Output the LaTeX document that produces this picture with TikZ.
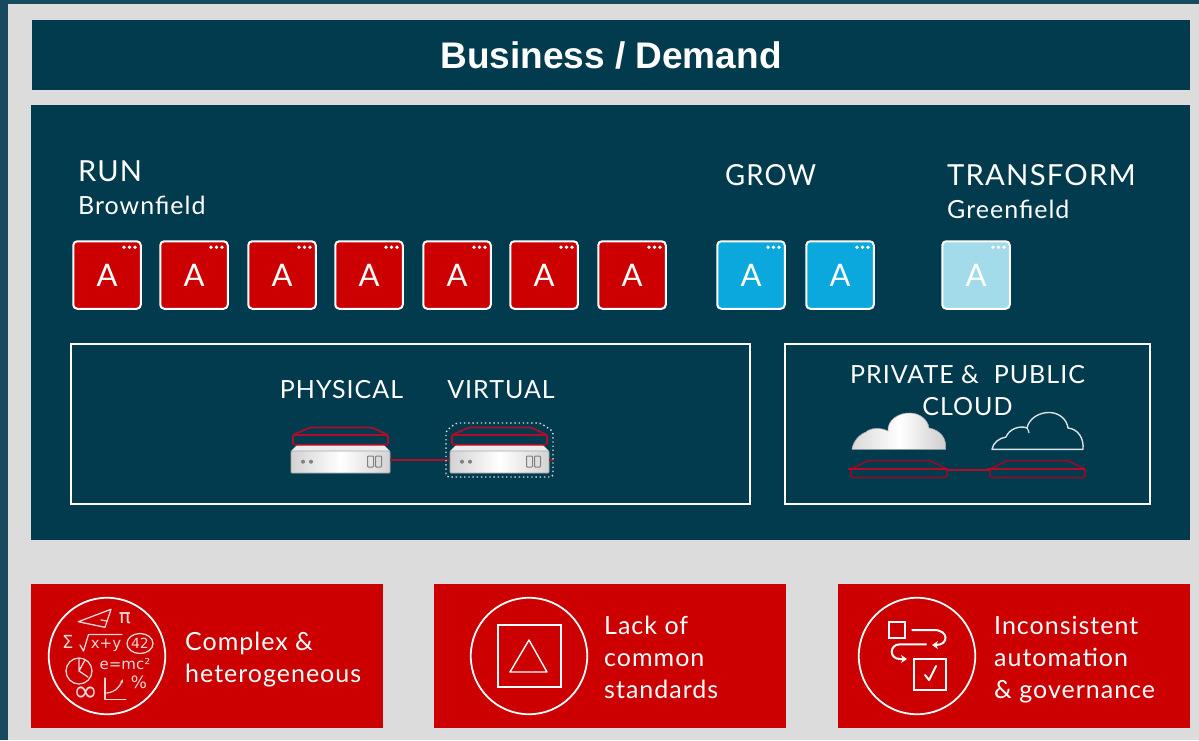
\documentclass[tikz,border=0pt]{standalone}
\usepackage{fontspec}
\setmainfont{Lato}
\newfontfamily\titlefont{Liberation Sans}
\newfontfamily\lblfont[LetterSpace=4]{Lato}
\newfontfamily\mathfont{DejaVu Sans}
\usetikzlibrary{arrows.meta,calc}
\definecolor{outerblue}{HTML}{17495F}
\definecolor{panelgrey}{HTML}{DCDCDC}
\definecolor{navy}{HTML}{023B4D}
\definecolor{rhred}{HTML}{CC0000}
\definecolor{appblue}{HTML}{0AA8DC}
\definecolor{applight}{HTML}{A3DBEA}
\definecolor{lidred}{HTML}{B00D28}
\definecolor{traydark}{HTML}{8A0F28}
\definecolor{chalk}{HTML}{F6D6D6}
\tikzset{
  x=1pt,y=-1pt,
  band/.style={draw=none,fill=navy,inner sep=0,outer sep=0,anchor=north west},
  redband/.style={draw=none,fill=rhred,inner sep=0,outer sep=0,anchor=north west,minimum width=352pt,minimum height=144pt},
  frame/.style={draw=white,line width=1.6pt,inner sep=0,outer sep=0,anchor=north west},
  appbox/.style={rounded corners=4pt,draw=white,line width=2pt,minimum size=67.5pt,inner sep=0,outer sep=0,
    text=white,font=\lblfont\fontsize{31}{31}\selectfont},
  hdr/.style={anchor=base west,inner sep=0,text=white,font=\lblfont\fontsize{29}{29}\selectfont},
  subhdr/.style={anchor=base west,inner sep=0,text=white,font=\lblfont\fontsize{25}{25}\selectfont},
  boxlbl/.style={anchor=base,inner sep=0,text=white,font=\lblfont\fontsize{25}{25}\selectfont},
  boxlbltwo/.style={anchor=center,inner sep=0,text=white,align=center,font=\lblfont\fontsize{25}{32}\selectfont},
  issue/.style={anchor=west,inner sep=0,text=white,align=left,font=\lblfont\fontsize{25}{32}\selectfont},
  ring/.style={circle,draw=white,line width=1.8pt,minimum size=116.5pt,inner sep=0,outer sep=0},
  chalktxt/.style={inner sep=0,text=chalk},
  chalkline/.style={draw=chalk,line width=1.3pt,line cap=round,line join=round},
  wline/.style={draw=white,line width=2pt},
  body/.style={minimum width=99pt,minimum height=22pt,inner sep=0,outer sep=0,rounded corners=1pt,
    draw=gray!70,line width=.8pt,left color=gray!35,right color=gray!35,middle color=white},
  lidline/.style={draw=lidred,line width=1.7pt,line join=round},
  trayline/.style={draw=traydark,line width=1.7pt,line join=round},
  link/.style={draw=lidred,line width=2pt},
}
% app icon: name, x of left edge, fill
\newcommand{\appicon}[3]{%
  \node[appbox,fill=#3] (#1) at (#2+34,275) {A};
  \foreach \d in {0,5.5,11}{\fill[white] (#2+51+\d,247.3) circle (1.9pt);}
}
% server with lid: name, x of left edge of body
\newcommand{\serverunit}[2]{%
  \fill[white!85!gray] (#2+6,445) -- (#2+93,445) -- (#2+99,451) -- (#2,451) -- cycle;
  \node[body,anchor=north west] (#1) at (#2,451) {};
  \fill[gray] (#2+12,461.7) circle (2pt) (#2+20,461.7) circle (2pt);
  \draw[gray,line width=1pt,rounded corners=.8pt] (#2+76.5,456) rectangle (#2+82.5,467) (#2+84.5,456) rectangle (#2+90.5,467);
  \draw[lidline,rounded corners=1.5pt] (#2+2,435) -- (#2+19,427.5) -- (#2+81,427.5) -- (#2+97,435) -- (#2+97,444.7) -- (#2+2,444.7) -- cycle;
  \draw[lidred,line width=2.2pt] (#2+2,435) -- (#2+97,435);
}
% flat tray: name, x left, width
\newcommand{\trayunit}[3]{%
  \node[minimum width=#3pt,minimum height=8.5pt,inner sep=0,outer sep=0,anchor=north west,draw=traydark,line width=1.7pt,rounded corners=1.5pt] (#1) at (#2,469) {};
  \draw[trayline] (#2,469) -- (#2+17,460.7) -- (#2+#3-17,460.7) -- (#2+#3,469);
  \draw[lidred,line width=2.2pt] (#2-3,469) -- (#2+#3,469);
}
\begin{document}
\begin{tikzpicture}
\useasboundingbox (0,0) rectangle (1199,740);
\fill[outerblue] (0,0) rectangle (1199,740);
\fill[panelgrey] (8,4) rectangle (1199,740);

% header band
\node[band,minimum width=1158pt,minimum height=70pt,text=white,font=\titlefont\bfseries\fontsize{37}{37}\selectfont,align=center] (business) at (32,20) {Business / Demand};
\node[band,minimum width=1159pt,minimum height=435pt] (main) at (31,105) {};

% column titles
\node[hdr] (run) at (78,181) {RUN};
\node[subhdr] (brown) at (78,214) {Brownfield};
\node[hdr] (grow) at (725,185) {\scalebox{.95}[1]{GROW}};
\node[hdr] (transform) at (947,185) {\scalebox{1.01}[1]{TRANSFORM}};
\node[subhdr] (green) at (947,218) {Greenfield};

% applications
\appicon{a1}{73}{rhred}
\appicon{a2}{160}{rhred}
\appicon{a3}{248}{rhred}
\appicon{a4}{335}{rhred}
\appicon{a5}{423}{rhred}
\appicon{a6}{510}{rhred}
\appicon{a7}{598}{rhred}
\appicon{b1}{717}{appblue}
\appicon{b2}{806}{appblue}
\appicon{c1}{942}{applight}

% infrastructure frames
\node[frame,minimum width=679pt,minimum height=160pt] (onprem) at (71,344) {};
\node[frame,minimum width=365pt,minimum height=160pt] (cloudbox) at (785,344) {};
\node[boxlbl] (physical) at (341.5,398) {PHYSICAL};
\node[boxlbl] (virtual) at (501,398) {VIRTUAL};
\node[boxlbltwo] (pp) at (967.5,391) {PRIVATE \&\ \ PUBLIC\\ CLOUD};

% servers
\serverunit{srvP}{291}
\serverunit{srvV}{450}
\coordinate (vedge) at (553,459.5);
\draw[link] ($(srvP.east)+(0,-2.5)$) -- ($(srvV.west)+(0,-2.5)$);
\draw[link] ($(srvV.east)+(0,-2.5)$) -- (vedge);
\draw[white!85!navy,line width=1.4pt,dash pattern=on 1.4pt off 2.8pt,rounded corners=3pt]
  (446,477) -- (446,431) -- (456,423) -- (540,423) -- (553,431) -- (553,477) -- cycle;

% clouds
\shade[left color=gray!30,right color=gray!40,middle color=white,draw=gray!70,line width=.6pt]
  (852,449.3) .. controls (853,441) and (860,434) .. (866,432)
  .. controls (870,428) and (880,427) .. (888,431)
  .. controls (887,420) and (899,412.5) .. (910,413)
  .. controls (920,413) and (928,420) .. (929,428)
  .. controls (940,430) and (947,438) .. (945.5,449.3) -- cycle;
\draw[white!85!navy,line width=1.4pt,line join=round]
  (992,449.3) .. controls (993,443) and (999,438) .. (1006,437)
  .. controls (1009,429) and (1020,425) .. (1027,428)
  .. controls (1029,418) and (1040,412) .. (1050,412.5)
  .. controls (1060,413) and (1067,420) .. (1068,428)
  .. controls (1078,429) and (1084,438) .. (1083,449.3) -- cycle;
\draw[white!85!navy,line width=1.2pt] (1027,428) .. controls (1028,430) and (1029,431) .. (1029,433);

% trays
\trayunit{trayA}{851}{96}
\trayunit{trayB}{990}{95}
\draw[link] ($(trayA.north east)+(0,1)$) -- ($(trayB.north west)+(0,1)$);

% red issue boxes
\node[redband] (issA) at (31,584) {};
\node[redband] (issB) at (434,584) {};
\node[redband] (issC) at (838,584) {};
\node[ring] (ringA) at (107,656) {};
\node[ring] (ringB) at (529,656) {};
\node[ring] (ringC) at (917,656) {};
\node[issue] (txtA) at (185,660) {Complex \&\\heterogeneous};
\node[issue] (txtB) at (604,657) {Lack of\\common\\standards};
\node[issue] (txtC) at (994,660) {Inconsistent\\automation\\\&\ governance};

% formula icon
\draw[chalkline] (78.3,621.7) -- (111,609.3) -- (105,627.3) -- cycle;
\draw[chalkline] (101,620) -- (107,621);
\node[chalktxt,font=\mathfont\fontsize{20}{20}\selectfont] (pi) at (125,618) {π};
\node[chalktxt,font=\mathfont\fontsize{18}{18}\selectfont] (sig) at (67.7,641.5) {Σ};
\draw[chalkline] (80,645) -- (83.5,651) -- (88.5,634.5) -- (122,634.5);
\node[chalktxt,font=\mathfont\fontsize{15}{15}\selectfont] (xy) at (106,645) {x+y};
\node[chalktxt,font=\mathfont\fontsize{14}{14}\selectfont] (ft) at (140,643.5) {42};
\draw[chalkline] (140,643.5) ellipse (13pt and 10pt);
\draw[chalkline] (79,671) circle (13pt);
\draw[chalkline] (79,659) -- (79,671) -- (88,677) (79,671) -- (85,660);
\node[chalktxt,font=\mathfont\fontsize{15}{15}\selectfont] (emc) at (125,664) {e=mc²};
\draw[chalkline] (105,678) -- (105,699.3) -- (125.7,699.3);
\draw[chalkline,-{Stealth[length=4pt]}] (106.7,693) .. controls (116,692) and (120,686) .. (123,679);
\node[chalktxt,font=\mathfont\fontsize{17}{17}\selectfont] (pct) at (139,682) {\%};
\node[chalktxt,font=\mathfont\fontsize{30}{30}\selectfont] (inf) at (86,694) {∞};

% standards icon
\draw[wline] (498,625) rectangle (561,687);
\draw[white,line width=1.4pt,line join=round] (510,672) -- (547,672) -- (529,640) -- cycle;

% workflow icon
\draw[wline] (889,622.3) rectangle (905,638.3);
\draw[wline] (914,659) rectangle (946,690);
\draw[white,line width=2pt,line cap=round,line join=round] (925,675) -- (929,680) -- (936,666);
\draw[wline,-{Stealth[length=6pt,width=8pt]}] (911.7,630) -- (934,630) .. controls (949,630) and (949,645) .. (936,645) -- (932,645);
\draw[wline,-{Stealth[length=6pt,width=8pt]}] (926.7,644.3) -- (900,644.3) .. controls (889,644.3) and (889,659) .. (900,659) -- (907,659);
\end{tikzpicture}
\end{document}
